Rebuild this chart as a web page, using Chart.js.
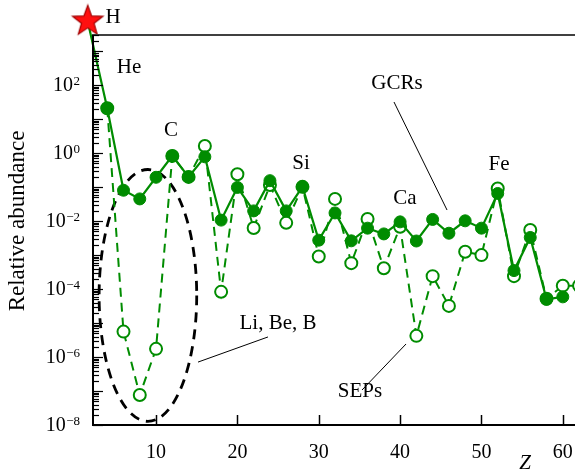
<!DOCTYPE html>
<html>
<head>
<meta charset="utf-8">
<script src="https://cdn.jsdelivr.net/npm/chart.js@4/dist/chart.umd.min.js"></script>
<style>
html,body{margin:0;padding:0;background:#ffffff;}
canvas{display:block;}
</style>
</head>
<body>
<canvas id="c" width="575" height="470"></canvas>
<script>
// ---------- data ----------
const H_Z = [1.6];
const H_VALUE = [7600];

const Z_GCR = [4, 6, 8, 10, 12, 14, 16, 18, 20, 22, 24, 26, 28, 30, 32, 34, 36, 38, 40, 42, 44, 46, 48, 50, 52, 54, 56, 58, 60];
const GCR = [21, 0.081, 0.045, 0.195, 0.83, 0.20, 0.78, 0.0107, 0.098, 0.020, 0.155, 0.020, 0.102, 0.00275, 0.0174, 0.00263,
             0.0062, 0.0042, 0.0095, 0.0026, 0.0112, 0.0044, 0.0102, 0.0062, 0.065, 0.00035, 0.0033, 0.00005, 0.000059];

const Z_SEP = [4, 6, 8, 10, 12, 14, 16, 18, 20, 22, 24, 26, 28, 30, 32, 34, 36, 38, 40, 42, 44, 46, 48, 50, 52, 54, 56, 58, 60, 62];
const SEP = [21, 5.6e-6, 7.6e-8, 1.74e-6, 0.83, 0.20, 1.62, 8.3e-5, 0.24, 0.0063, 0.115, 0.0089, 0.102, 0.00091, 0.045, 0.00058,
             0.0115, 0.00041, 0.0068, 4.2e-6, 0.00024, 3.2e-5, 0.00126, 0.0010, 0.091, 0.00024, 0.0055, 5.2e-5, 0.000126, 0.000126];

const X_TICKS = [10, 20, 30, 40, 50, 60];
const Y_LABEL_EXPONENTS = [-8, -6, -4, -2, 0, 2];

// text annotations, anchored in data coordinates (Z, abundance)
const LABEL_TEXT = ['H', 'He', 'C', 'Si', 'Ca', 'Fe', 'GCRs', 'Li, Be, B', 'SEPs'];
const LABEL_Z    = [4.71, 6.68, 11.84, 27.82, 40.6, 52.16, 39.62, 24.99, 35.07];
const LABEL_V    = [1.0e4, 321, 4.8, 0.51, 0.045, 0.48, 116, 1e-5, 1e-7];

// leader lines (from -> to), data coordinates
const LEADER_Z1 = [39.25, 23.76, 35.32];
const LEADER_V1 = [32, 3.9e-6, 1.07e-7];
const LEADER_Z2 = [45.77, 15.16, 40.73];
const LEADER_V2 = [0.0212, 7.1e-7, 2.42e-6];

// Li, Be, B ellipse: centre (Z, value), half-width in Z, value at its top
const ELLIPSE_Z = 9.0, ELLIPSE_V = 6.5e-5, ELLIPSE_DZ = 6.0, ELLIPSE_VTOP = 0.33;

// ---------- styling ----------
const GREEN = 'rgb(0,140,0)';
const SERIF = '"Liberation Serif", "Times New Roman", serif';

function makeStar(outer, inner) {
  const s = Math.ceil(outer * 2 + 4);
  const cv = document.createElement('canvas');
  cv.width = s; cv.height = s;
  const g = cv.getContext('2d');
  g.translate(s / 2, s / 2);
  g.beginPath();
  for (let i = 0; i < 10; i++) {
    const r = i % 2 === 0 ? outer : inner;
    const a = -Math.PI / 2 + i * Math.PI / 5;
    const px = r * Math.cos(a), py = r * Math.sin(a);
    if (i === 0) g.moveTo(px, py); else g.lineTo(px, py);
  }
  g.closePath();
  g.fillStyle = '#ff1010';
  g.fill();
  g.lineWidth = 1.2;
  g.strokeStyle = '#a00000';
  g.stroke();
  return cv;
}
const STAR = makeStar(16, 6.6);

const hData = H_Z.map((z, i) => ({x: z, y: H_VALUE[i]}));
const gcrData = [{x: H_Z[0], y: H_VALUE[0]}].concat(Z_GCR.map((z, i) => ({x: z, y: GCR[i]})));
const gcrRadius = gcrData.map((d, i) => i === 0 ? 0 : 6);
const sepData = Z_SEP.map((z, i) => ({x: z, y: SEP[i]}));

const framePlugin = {
  id: 'frame',
  beforeDatasetsDraw(chart) {
    const ctx = chart.ctx;
    const xs = chart.scales.x, ys = chart.scales.y;
    ctx.save();
    const cx = xs.getPixelForValue(ELLIPSE_Z);
    const cy = ys.getPixelForValue(ELLIPSE_V);
    const rx = xs.getPixelForValue(ELLIPSE_Z + ELLIPSE_DZ) - cx;
    const ry = cy - ys.getPixelForValue(ELLIPSE_VTOP);
    ctx.beginPath();
    ctx.ellipse(cx, cy, rx, ry, 0, 0, Math.PI * 2);
    ctx.setLineDash([10, 7]);
    ctx.lineWidth = 2.8;
    ctx.strokeStyle = '#000';
    ctx.stroke();
    ctx.setLineDash([]);
    ctx.restore();
  },
  afterDraw(chart) {
    const ctx = chart.ctx;
    const xs = chart.scales.x, ys = chart.scales.y;
    const a = chart.chartArea;
    ctx.save();
    // top line
    ctx.strokeStyle = '#404040';
    ctx.lineWidth = 2;
    ctx.beginPath(); ctx.moveTo(a.left - 1, a.top); ctx.lineTo(a.right, a.top); ctx.stroke();
    // left & bottom axes
    ctx.strokeStyle = '#000';
    ctx.beginPath(); ctx.moveTo(a.left, a.top); ctx.lineTo(a.left, a.bottom); ctx.lineTo(a.right, a.bottom); ctx.stroke();
    // y ticks (inward), log majors and minors
    ctx.lineWidth = 1.2;
    const lo = Math.floor(Math.log10(ys.min)), hi = Math.ceil(Math.log10(ys.max));
    for (let d = lo; d <= hi; d++) {
      for (let m = 1; m <= 9; m++) {
        const v = m * Math.pow(10, d);
        if (v < ys.min * 0.999 || v > ys.max * 1.001) continue;
        const py = Math.round(ys.getPixelForValue(v)) + 0.5;
        const len = m === 1 ? 10 : 6;
        ctx.beginPath(); ctx.moveTo(a.left, py); ctx.lineTo(a.left + len, py); ctx.stroke();
      }
    }
    // x ticks (inward)
    ctx.lineWidth = 1.5;
    X_TICKS.forEach(t => {
      const px = Math.round(xs.getPixelForValue(t)) + 0.5;
      ctx.beginPath(); ctx.moveTo(px, a.bottom); ctx.lineTo(px, a.bottom - 10); ctx.stroke();
    });
    // x tick labels
    ctx.fillStyle = '#000';
    ctx.font = '20px ' + SERIF;
    ctx.textAlign = 'center';
    ctx.textBaseline = 'alphabetic';
    X_TICKS.forEach(t => {
      ctx.fillText(String(t), xs.getPixelForValue(t), a.bottom + 33);
    });
    // y tick labels 10^n
    Y_LABEL_EXPONENTS.forEach(e => {
      const py = ys.getPixelForValue(Math.pow(10, e));
      const expText = e < 0 ? '\u2212' + Math.abs(e) : String(e);
      ctx.font = '13px ' + SERIF;
      const ew = ctx.measureText(expText).width;
      const right = a.left - 13;
      ctx.textAlign = 'right';
      ctx.fillText(expText, right, py);
      ctx.font = '20px ' + SERIF;
      ctx.fillText('10', right - ew - 0.5, py + 6);
    });
    // axis titles
    ctx.save();
    ctx.font = '23px ' + SERIF;
    ctx.textAlign = 'center';
    ctx.textBaseline = 'middle';
    ctx.translate(18, 221);
    ctx.rotate(-Math.PI / 2);
    ctx.fillText('Relative abundance', 0, 0);
    ctx.restore();
    ctx.font = 'italic 21px ' + SERIF;
    ctx.textAlign = 'center';
    ctx.textBaseline = 'middle';
    ctx.fillText('Z', xs.getPixelForValue(55.35), a.bottom + 38);
    // annotations
    ctx.font = '21px ' + SERIF;
    LABEL_TEXT.forEach((t, i) => {
      ctx.fillText(t, xs.getPixelForValue(LABEL_Z[i]), ys.getPixelForValue(LABEL_V[i]));
    });
    // leader lines
    ctx.lineWidth = 1;
    ctx.strokeStyle = '#000';
    LEADER_Z1.forEach((z, i) => {
      ctx.beginPath();
      ctx.moveTo(xs.getPixelForValue(z), ys.getPixelForValue(LEADER_V1[i]));
      ctx.lineTo(xs.getPixelForValue(LEADER_Z2[i]), ys.getPixelForValue(LEADER_V2[i]));
      ctx.stroke();
    });
    ctx.restore();
  }
};

new Chart(document.getElementById('c'), {
  type: 'scatter',
  data: {
    datasets: [
      {
        label: 'H', data: hData, pointStyle: STAR, pointRadius: 18, showLine: false,
        order: 0, clip: false
      },
      {
        label: 'GCRs', data: gcrData, showLine: true, borderColor: GREEN, borderWidth: 2.2,
        pointBackgroundColor: GREEN, pointBorderColor: GREEN, pointBorderWidth: 1,
        pointRadius: gcrRadius, order: 1, clip: false
      },
      {
        label: 'SEPs', data: sepData, showLine: true, borderColor: GREEN, borderWidth: 2,
        borderDash: [9, 6], pointBackgroundColor: '#ffffff', pointBorderColor: GREEN,
        pointBorderWidth: 2, pointRadius: 6, order: 2, clip: 0
      }
    ]
  },
  options: {
    responsive: false,
    animation: false,
    events: [],
    layout: {autoPadding: false, padding: {left: 0, right: 0, top: 35, bottom: 0}},
    plugins: {legend: {display: false}, tooltip: {enabled: false}},
    scales: {
      x: {
        type: 'linear', min: 2.25, max: 61.5,
        afterFit(s) { s.height = 45; },
        grid: {display: false}, border: {display: false}, ticks: {display: false}
      },
      y: {
        type: 'logarithmic', min: 1e-8, max: 3000,
        afterFit(s) { s.width = 93; },
        grid: {display: false}, border: {display: false}, ticks: {display: false}
      }
    }
  },
  plugins: [framePlugin]
});
</script>
</body>
</html>
